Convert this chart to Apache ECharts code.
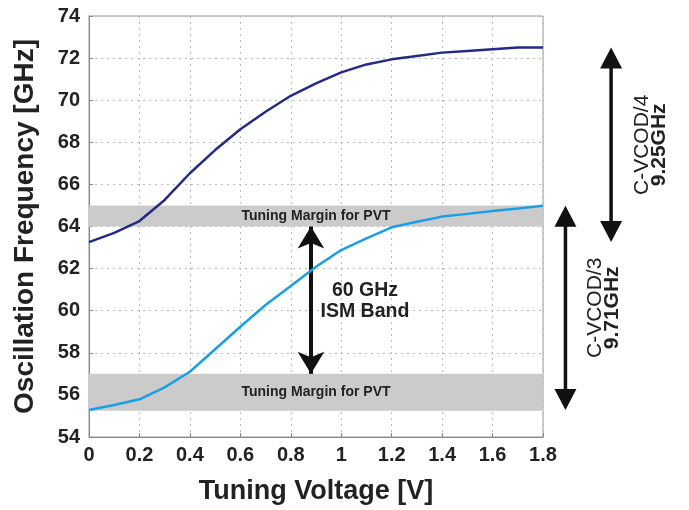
<!DOCTYPE html>
<html><head><meta charset="utf-8">
<script src="https://cdn.jsdelivr.net/npm/echarts@6/dist/echarts.min.js"></script>
<style>html,body{margin:0;padding:0;background:#fff}#c{width:689px;height:510px}</style>
</head><body><div id="c"></div>
<script>
const voltage = [0,0.1,0.2,0.3,0.4,0.5,0.6,0.7,0.8,0.9,1.0,1.1,1.2,1.3,1.4,1.5,1.6,1.7,1.8];
const vcoD4 = [63.26,63.7,64.26,65.26,66.53,67.63,68.62,69.45,70.21,70.8,71.32,71.7,71.94,72.1,72.26,72.34,72.42,72.5,72.5];
const vcoD3 = [55.28,55.52,55.79,56.36,57.1,58.17,59.24,60.27,61.17,62.09,62.88,63.44,63.96,64.23,64.47,64.6,64.74,64.86,64.99];
const pvtBands = [[64,65],[55.25,57]];
const ismBand = [57,64];
const ismX = 0.88;
const rangeD4 = [63.26,72.5];
const rangeD3 = [55.28,64.99];

const FONT = '"Liberation Sans", Arial, sans-serif';
const chart = echarts.init(document.getElementById('c'));
const pair = (xs, ys) => xs.map((x,i)=>[x,ys[i]]);

chart.setOption({
  animation:false,
  backgroundColor:'#fff',
  grid:{left:89,right:146,top:16,bottom:73,outerBoundsMode:'none',containLabel:false,
    show:true,borderColor:'#999',borderWidth:1,backgroundColor:'transparent'},
  xAxis:{type:'value',min:0,max:1.8,interval:0.2,
    name:'Tuning Voltage [V]',nameLocation:'middle',nameGap:41,
    nameTextStyle:{fontFamily:FONT,fontWeight:'bold',fontSize:27,color:'#222'},
    axisLine:{show:true,lineStyle:{color:'#888',width:1}},
    axisTick:{show:true,inside:true,length:4,lineStyle:{color:'#888'}},
    axisLabel:{fontFamily:FONT,fontWeight:'bold',fontSize:20,color:'#222',margin:8,
      formatter:v=>String(+v.toFixed(1))},
    splitLine:{show:true,lineStyle:{color:'#bbb',type:[2,4],width:1}}},
  yAxis:{type:'value',min:54,max:74,interval:2,
    name:'Oscillation Frequency [GHz]',nameLocation:'middle',nameGap:50,
    nameTextStyle:{fontFamily:FONT,fontWeight:'bold',fontSize:28,color:'#222'},
    axisLine:{show:true,lineStyle:{color:'#888',width:1}},
    axisTick:{show:true,inside:true,length:4,lineStyle:{color:'#888'}},
    axisLabel:{fontFamily:FONT,fontWeight:'bold',fontSize:20,color:'#222',margin:9},
    splitLine:{show:true,lineStyle:{color:'#bbb',type:[2,4],width:1}}},
  series:[
    {type:'line',data:pair(voltage,vcoD4),symbol:'none',z:5,
      lineStyle:{color:'#252a85',width:2.5},
      markArea:{silent:true,itemStyle:{color:'#cbcbcb'},
        label:{show:true,position:'inside',fontFamily:FONT,fontWeight:'bold',fontSize:14,color:'#222'},
        data:pvtBands.map(b=>[{name:'Tuning Margin for PVT',yAxis:b[0],xAxis:0},{yAxis:b[1],xAxis:1.8}])}},
    {type:'line',data:pair(voltage,vcoD3),symbol:'none',z:5,
      lineStyle:{color:'#1a9fe3',width:2.5}},
    {type:'line',data:[],z:6,
      markLine:{silent:true,symbol:['arrow','arrow'],symbolSize:[20,22],
        lineStyle:{color:'#111',width:4,type:'solid'},label:{show:false},
        data:[[{coord:[ismX,ismBand[1]]},{coord:[ismX,ismBand[0]]}]]}}
  ]
});

function arrow(x, y1, y2){
  const hw=11, hl=21;
  return [
    {type:'line',shape:{x1:x,y1:y1+hl-2,x2:x,y2:y2-hl+2},style:{stroke:'#111',lineWidth:3.5},z:10},
    {type:'polygon',shape:{points:[[x,y1],[x-hw,y1+hl],[x+hw,y1+hl]]},style:{fill:'#111'},z:10},
    {type:'polygon',shape:{points:[[x,y2],[x-hw,y2-hl],[x+hw,y2-hl]]},style:{fill:'#111'},z:10}
  ];
}
const P = (x,y)=>chart.convertToPixel({gridIndex:0},[x,y]);
const a4x = P(2.07,0)[0], a3x = P(1.889,0)[0];
const a4t = P(0,rangeD4[1])[1], a4b = P(0,rangeD4[0])[1];
const a3t = P(0,rangeD3[1])[1], a3b = P(0,rangeD3[0])[1];
const ismC = P(ismX,(ismBand[0]+ismBand[1])/2);
const g = [].concat(arrow(a4x,a4t,a4b), arrow(a3x,a3t,a3b));
function vtext(x,y,t,bold){
  return {type:'text',x:x,y:y,rotation:Math.PI/2,z:11,
    style:{text:t,fontFamily:FONT,fontWeight:bold?'bold':'normal',fontSize:21,fill:'#222',align:'center',verticalAlign:'middle'}};
}
const m4=(a4t+a4b)/2, m3=(a3t+a3b)/2;
g.push(vtext(a4x+31,m4,'C-VCOD/4',false), vtext(a4x+48,m4,'9.25GHz',true));
g.push(vtext(a3x+30,m3,'C-VCOD/3',false), vtext(a3x+47,m3,'9.71GHz',true));
g.push({type:'text',x:ismC[0]+54,y:ismC[1]+1,z:11,style:{text:'60 GHz\nISM Band',fontFamily:FONT,fontWeight:'bold',fontSize:19.5,lineHeight:21,fill:'#222',align:'center',verticalAlign:'middle'}});
chart.setOption({graphic:g});
</script></body></html>
